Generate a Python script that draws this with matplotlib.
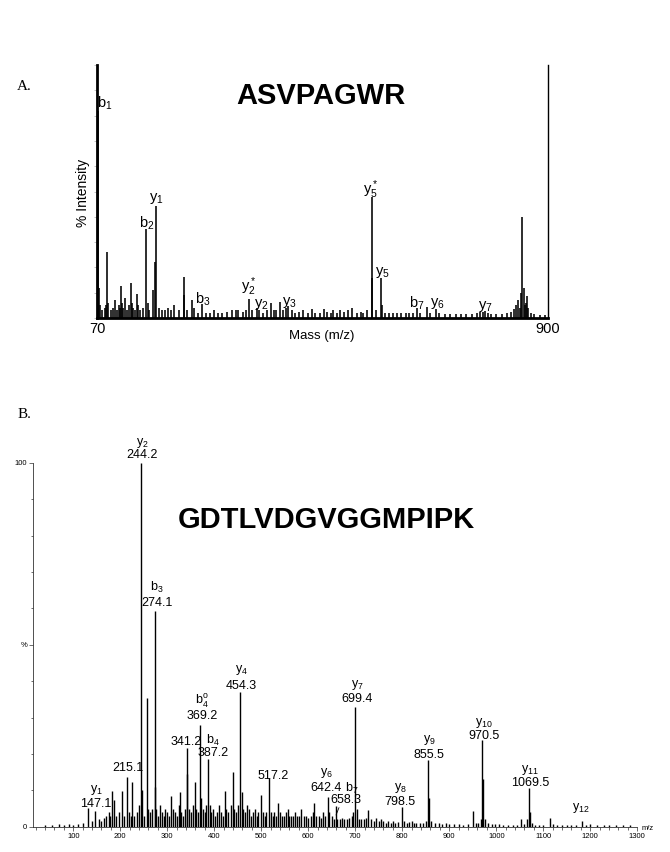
import matplotlib
matplotlib.use("Agg")
import matplotlib.pyplot as plt
from matplotlib.ticker import MultipleLocator

plt.rcParams['font.family'] = ['Liberation Sans', 'DejaVu Sans']
plt.rcParams['mathtext.fontset'] = 'custom'
plt.rcParams['mathtext.rm'] = 'Liberation Sans'
plt.rcParams['mathtext.it'] = 'Liberation Sans:italic'
plt.rcParams['mathtext.bf'] = 'Liberation Sans:bold'

# ---------------- Panel A data (m/z, % intensity) ----------------
a_mz = [72, 74, 76, 80, 84, 86, 88, 90, 95, 100, 103, 106, 110, 112, 114, 116, 118,
        122, 125, 128, 132, 134, 137, 140, 143, 146, 150, 155, 161, 163, 166,
        172.5, 177.5, 178.6, 185, 190, 196, 200, 206, 212, 220, 229.5, 231, 236,
        244, 248, 255, 262.6, 270, 278, 285, 292, 300, 310, 318, 325, 330, 338,
        344, 349, 355, 364, 368, 376, 382, 389.6, 395, 400, 406.8, 412, 418, 422,
        428, 435, 442, 450, 458, 466, 472, 480, 487, 494, 500, 505, 512, 518, 525,
        532, 540, 548, 556, 560, 566, 575.5, 577, 584, 592.6, 594, 600, 608, 615,
        622, 630, 638, 645, 652, 659, 665, 676.7, 682, 693, 700, 710, 720, 730,
        740, 750, 760, 770, 775, 780, 784, 790, 795, 805, 815, 825, 832, 838, 842,
        845, 848, 851, 853, 855, 858, 860, 862, 864, 868, 875, 885, 895]
a_int = [82, 12, 5, 3, 4, 5, 26, 6, 3, 4, 7, 3, 5, 4, 12.8, 6, 4,
         7.8, 3, 5, 14, 6, 4, 3, 9.5, 5, 3, 4, 35, 6, 3,
         11, 22, 44.4, 4, 3, 3, 4, 3, 5, 3, 16.3, 9, 3,
         7.2, 4, 2, 5.6, 2, 2, 3, 2, 2, 2.5, 3, 3, 3, 2.5,
         3, 7.6, 3, 4, 3, 2, 3, 6, 3, 3, 6.5, 3, 4, 4.6,
         3, 2, 2.5, 3, 2, 3.5, 2, 2, 3.5, 2.5, 2, 3, 2, 3, 2.5,
         3, 4, 2, 2.5, 2, 3, 47.7, 16, 3, 16, 5, 2, 2, 2,
         2, 2, 2, 2, 2, 4, 2, 4.3, 2, 3.6, 2, 1.5, 1.5, 1.5,
         1.5, 1.5, 1.5, 2, 2.5, 2.5, 2.7, 2, 1.5, 1.5, 1.5, 2, 2.5, 3.5, 5,
         7, 4, 10, 40, 12, 5, 6, 8.5, 4, 2, 1.5, 1, 1]
a_xlim = (70, 900)
a_peptide = "ASVPAGWR"

# ion labels panel A: (text, x px, y px)
a_labels = [(r'$\mathrm{b_1}$', 105, 103), (r'$\mathrm{y_1}$', 156, 199),
            (r'$\mathrm{b_2}$', 147, 223), (r'$\mathrm{b_3}$', 203, 299),
            (r'$\mathrm{y_2^*}$', 249, 287), (r'$\mathrm{y_2}$', 261, 305),
            (r'$\mathrm{y_3}$', 289, 302), (r'$\mathrm{y_5^*}$', 371, 190),
            (r'$\mathrm{y_5}$', 382, 272), (r'$\mathrm{b_7}$', 417, 303),
            (r'$\mathrm{y_6}$', 437, 303), (r'$\mathrm{y_7}$', 485, 306)]

# ---------------- Panel B data ----------------
b_mz = [40, 55, 70, 80, 90, 100, 110, 120, 130.6, 140, 147.1, 155, 160, 165, 170, 175, 178,
        183, 187, 192, 198, 203, 207, 215.1, 218, 222, 226, 230, 235, 239, 244.2, 246,
        250, 256, 259, 263, 268, 273, 274.1, 276, 280, 284, 288, 292, 296, 300, 304,
        309, 312, 316, 320, 324, 327, 330, 334, 338, 341.2, 343, 347, 351, 355, 359,
        362, 366, 369.2, 372, 376, 380, 383, 387.2, 390, 394, 398, 402, 406, 410, 414,
        418, 423, 426, 430, 435, 440, 443, 447, 451, 454.3, 458, 462, 466, 470, 474,
        478, 482, 486, 490, 494, 499, 503, 507, 511, 517.2, 520, 524, 528, 532, 536,
        540, 544, 548, 552, 556, 560, 564, 568, 572, 576, 580, 585, 590, 595, 600,
        605, 609, 613, 617, 622, 627, 632, 636, 642.4, 645, 650, 654, 658.3, 662, 667,
        672, 677, 682, 687, 692, 695, 699.4, 703, 708, 713, 718, 722, 728, 733, 740,
        745, 750, 755, 760, 765, 770, 775, 780, 785, 790, 798.5, 803, 810, 815, 820,
        825, 830, 838, 845, 850, 855.5, 857, 862, 870, 878, 885, 893, 900, 910, 920,
        930, 940, 951, 956, 962, 967, 970.5, 972, 976, 983, 990, 998, 1005, 1015,
        1025, 1035, 1045, 1052, 1060, 1066, 1069.5, 1071, 1075, 1082, 1090, 1100,
        1114, 1120, 1130, 1140, 1150, 1160, 1170, 1182, 1190, 1200, 1215, 1230, 1240,
        1255, 1270, 1285]
b_int = [0.5, 0.5, 0.8, 0.5, 0.8, 0.6, 0.8, 1, 5.2, 1.5, 4.3, 2, 1.5, 2.5, 3, 4, 3,
         9.9, 7.4, 3, 4, 9.9, 3, 13.6, 4, 3, 12.2, 3, 4, 6, 100, 10,
         3, 35.3, 5, 4, 5, 11, 59.3, 5, 3, 6, 4, 3, 5, 4, 3,
         8.4, 5, 4, 3, 6, 9.5, 4, 3, 5, 21.5, 14.5, 5, 4, 6, 12.3,
         5, 4, 28, 8, 5, 4, 6, 18.6, 6, 4, 5, 3, 4, 6, 4,
         3, 9.9, 5, 4, 6, 15, 5, 4, 6, 37, 9.4, 5, 4, 6, 5,
         3, 4, 5, 3, 4, 8.7, 4, 3, 4, 13.3, 4, 3, 4, 3, 6.5,
         4, 3, 3, 4, 5, 3, 3, 3, 4, 3, 3, 5, 3, 3, 2.5,
         3, 4, 6.5, 3, 3, 2.5, 4, 3, 8.2, 4, 3, 2, 5.6, 2, 2,
         2.5, 2, 2, 2.5, 3, 4, 33, 5, 2, 2, 2, 2.5, 4.5, 2, 1.5,
         2.5, 1.5, 2, 1.5, 1, 1.5, 1, 1.5, 1, 1.2, 5.5, 1.5, 1, 1.2, 1.5,
         1, 1, 1, 1, 1.5, 18.3, 8, 1.5, 1, 1, 0.8, 1, 0.8, 0.8, 0.8,
         0.6, 0.8, 4.4, 1, 1, 2, 23.8, 13, 2, 1, 0.8, 0.8, 0.8, 0.6,
         0.6, 0.6, 0.6, 2, 0.8, 2, 10.5, 4, 1, 0.6, 0.6, 0.6,
         2.5, 0.8, 0.6, 0.6, 0.6, 0.6, 0.6, 1.5, 0.6, 0.8, 0.5, 0.6, 0.5,
         0.6, 0.5, 0.5]
b_xlim = (15, 1300)
b_peptide = "GDTLVDGVGGMPIPK"
b_xticks = [100, 200, 300, 400, 500, 600, 700, 800, 900, 1000, 1100, 1200, 1300]
b_yticks = [0, 50, 100]
b_yticklabels = ['0', '%', '100']

# ion labels panel B: (ion, value, x px, y px of ion line, y px of value line)
b_labels = [(r'$\mathrm{y_2}$', '244.2', 142, 443, 455),
            (r'$\mathrm{b_3}$', '274.1', 157, 587, 603),
            (r'$\mathrm{b_4^o}$', '369.2', 202, 701, 716),
            ('', '341.2', 186, None, 742),
            (r'$\mathrm{b_4}$', '387.2', 213, 740, 753),
            ('', '215.1', 128, None, 768),
            (r'$\mathrm{y_1}$', '147.1', 96, 790, 804),
            (r'$\mathrm{y_4}$', '454.3', 241, 670, 686),
            ('', '517.2', 273, None, 776),
            (r'$\mathrm{y_6}$', '642.4', 326, 773, 788),
            (r'$\mathrm{y_7}$', '699.4', 357, 685, 699),
            (r'$\mathrm{y_8}$', '798.5', 400, 788, 802),
            (r'$\mathrm{y_9}$', '855.5', 429, 740, 755),
            (r'$\mathrm{y_{10}}$', '970.5', 484, 723, 736),
            (r'$\mathrm{y_{11}}$', '1069.5', 530, 770, 783),
            (r'$\mathrm{y_{12}}$', '', 581, 808, None)]

W, H = 670, 852
fig = plt.figure(figsize=(W / 100, H / 100), dpi=100)


def fx(x):
    return x / W


def fy(y):
    return 1 - y / H


# ---------------- Panel A ----------------
axA = fig.add_axes([fx(97), fy(318), fx(548 - 97), (318 - 65) / H])
axA.vlines(a_mz, 0, a_int, color='black', lw=1.15)
axA.set_xlim(*a_xlim)
axA.set_ylim(0, 100)
axA.spines['top'].set_visible(False)
for s in ['left', 'bottom']:
    axA.spines[s].set_linewidth(2.0)
axA.spines['right'].set_linewidth(1.0)
axA.set_yticks(range(0, 101, 10))
axA.tick_params(axis='y', length=2, width=0.5, color='#aaaaaa', labelleft=False)
axA.set_xticks(list(a_xlim))
axA.set_xticklabels(['70', '900'], fontsize=10.5)
axA.tick_params(axis='x', length=0, pad=3)
fig.text(fx(322), fy(336), 'Mass (m/z)', fontsize=9.5, ha='center', va='center')
fig.text(fx(83), fy(193), '% Intensity', fontsize=10, rotation=90, ha='center', va='center')
fig.text(fx(321), fy(96), a_peptide, fontsize=21, fontweight='bold', ha='center', va='center')
fig.text(fx(24), fy(87), 'A.', fontsize=11, family='Liberation Serif', ha='center', va='center')
for t, x, y in a_labels:
    fig.text(fx(x), fy(y), t, fontsize=10.5, ha='center', va='center')

# ---------------- Panel B ----------------
axB = fig.add_axes([fx(33.3), fy(826.7), fx(637.3 - 33.3), (826.7 - 462.7) / H])
axB.vlines(b_mz, 0, b_int, color='black', lw=1.0)
axB.set_xlim(*b_xlim)
axB.set_ylim(0, 100)
for s in ['top', 'right']:
    axB.spines[s].set_visible(False)
for s in ['left', 'bottom']:
    axB.spines[s].set_linewidth(0.6)
    axB.spines[s].set_color('#333333')
axB.set_xticks(b_xticks)
axB.set_xticklabels([str(v) for v in b_xticks], fontsize=5.5)
axB.xaxis.set_minor_locator(MultipleLocator(20))
axB.set_yticks(b_yticks)
axB.set_yticklabels(b_yticklabels, fontsize=5.5)
axB.yaxis.set_minor_locator(MultipleLocator(10))
axB.tick_params(which='major', length=3, width=0.5, pad=1.5, color='#333333')
axB.tick_params(which='minor', length=1.8, width=0.5, color='#333333')
fig.text(fx(648), fy(828), 'm/z', fontsize=5.5, ha='center', va='center')
fig.text(fx(326), fy(520), b_peptide, fontsize=21, fontweight='bold', ha='center', va='center')
fig.text(fx(24), fy(414), 'B.', fontsize=11, family='Liberation Serif', ha='center', va='center')
for ion, val, x, yi, yv in b_labels:
    if ion and yi is not None:
        fig.text(fx(x), fy(yi), ion, fontsize=9, ha='center', va='center')
    if val and yv is not None:
        fig.text(fx(x), fy(yv), val, fontsize=9, ha='center', va='center')
fig.text(fx(352), fy(788), r'$\mathrm{b_7}$', fontsize=9, ha='center', va='center')
fig.text(fx(346), fy(800), '658.3', fontsize=9, ha='center', va='center')
axB.annotate('', xy=(657, 2.5), xycoords='data',
             xytext=(fx(340), fy(805)), textcoords='figure fraction',
             arrowprops=dict(arrowstyle='-', lw=0.6, color='black'))

fig.savefig('out.png', dpi=100)
